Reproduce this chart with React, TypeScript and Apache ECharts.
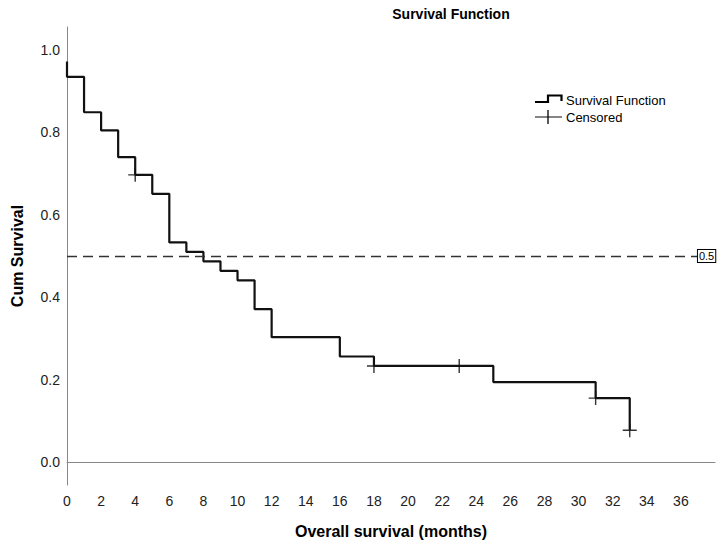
import React, { useEffect, useRef } from "react";
import * as echarts from "echarts";

const stepTimes = [0, 0, 1, 2, 3, 4, 5, 6, 7, 8, 9, 10, 11, 12, 16, 18, 25, 31, 33];
const stepSurvival = [0.972, 0.935, 0.849, 0.805, 0.74, 0.697, 0.651, 0.533, 0.51, 0.487, 0.464, 0.441, 0.371, 0.303, 0.256, 0.233, 0.194, 0.155, 0.077];
const censorTimes = [4, 18, 23, 31, 33];
const censorSurvival = [0.697, 0.233, 0.233, 0.155, 0.077];
const xTicks = [0, 2, 4, 6, 8, 10, 12, 14, 16, 18, 20, 22, 24, 26, 28, 30, 32, 34, 36];
const yTicks = [0, 0.2, 0.4, 0.6, 0.8, 1.0];
const medianLine = 0.5;

const FONT = "Liberation Sans, Arial, sans-serif";
const PLUS = "path://M6.3,0 H7.7 V6.3 H14 V7.7 H7.7 V14 H6.3 V7.7 H0 V6.3 H6.3 Z";

export default function App() {
  const ref = useRef<HTMLDivElement>(null);
  useEffect(() => {
    if (!ref.current) return;
    const chart = echarts.init(ref.current, null, { renderer: "svg" });
    chart.setOption({
      animation: false,
      backgroundColor: "#fff",
      grid: { left: 67, top: 27, right: 9, bottom: 64, containLabel: false },
      xAxis: {
        type: "value",
        min: 0,
        max: 38,
        interval: 2,
        name: "Overall survival (months)",
        nameLocation: "middle",
        nameGap: 38,
        nameTextStyle: { fontFamily: FONT, fontWeight: "bold", fontSize: 16, color: "#000" },
        axisLine: { show: true, lineStyle: { color: "#888", width: 1 } },
        axisTick: { show: false },
        splitLine: { show: false },
        axisLabel: {
          customValues: xTicks,
          fontFamily: FONT,
          fontSize: 14,
          color: "#222",
          margin: 9,
        },
      },
      yAxis: {
        type: "value",
        min: -0.056,
        max: 1.056,
        name: "Cum Survival",
        nameLocation: "middle",
        nameGap: 42,
        nameTextStyle: { fontFamily: FONT, fontWeight: "bold", fontSize: 16, color: "#000" },
        axisLine: { show: true, lineStyle: { color: "#888", width: 1 } },
        axisTick: { show: false },
        splitLine: { show: false },
        axisLabel: {
          customValues: yTicks,
          formatter: (v: number) => v.toFixed(1),
          fontFamily: FONT,
          fontSize: 14,
          color: "#222",
          margin: 7,
        },
      },
      series: [
        {
          type: "line",
          step: "end",
          data: stepTimes.map((t, i) => [t, stepSurvival[i]]),
          showSymbol: false,
          lineStyle: { color: "#111", width: 2.2 },
          silent: true,
          markLine: {
            silent: true,
            symbol: ["none", "none"],
            lineStyle: { color: "#333", width: 1.3, type: [10, 6] },
            label: {
              show: true,
              position: "end",
              distance: 0,
              formatter: "0.5",
              fontFamily: FONT,
              fontSize: 11,
              color: "#000",
              backgroundColor: "#fff",
              borderColor: "#000",
              borderWidth: 1,
              padding: [1, 1, 0, 1],
            },
            data: [[{ coord: [0, medianLine] }, { coord: [37, medianLine] }]],
          },
        },
        {
          type: "scatter",
          data: censorTimes.map((t, i) => [t, censorSurvival[i]]),
          symbol: PLUS,
          symbolSize: 14,
          itemStyle: { color: "#000" },
          silent: true,
        },
      ],
      graphic: [
        {
          type: "text",
          x: 451,
          y: 14,
          style: {
            text: "Survival Function",
            font: `bold 14px ${FONT}`,
            fill: "#000",
            textAlign: "center",
            textVerticalAlign: "middle",
          },
        },
        {
          type: "polyline",
          shape: { points: [[535, 102], [548, 102], [548, 95.5], [561.5, 95.5], [561.5, 101]] },
          style: { stroke: "#000", lineWidth: 2.2, fill: null },
        },
        {
          type: "text",
          x: 566,
          y: 100,
          style: { text: "Survival Function", font: `13px ${FONT}`, fill: "#000", textVerticalAlign: "middle" },
        },
        {
          type: "line",
          shape: { x1: 535, y1: 117, x2: 562, y2: 117 },
          style: { stroke: "#333", lineWidth: 1.2 },
        },
        {
          type: "line",
          shape: { x1: 548, y1: 110, x2: 548, y2: 124 },
          style: { stroke: "#000", lineWidth: 1.3 },
        },
        {
          type: "text",
          x: 566,
          y: 117,
          style: { text: "Censored", font: `13px ${FONT}`, fill: "#000", textVerticalAlign: "middle" },
        },
      ],
    });
    return () => chart.dispose();
  }, []);
  return <div ref={ref} style={{ width: 724, height: 549, position: "absolute", left: 0, top: 0 }} />;
}
